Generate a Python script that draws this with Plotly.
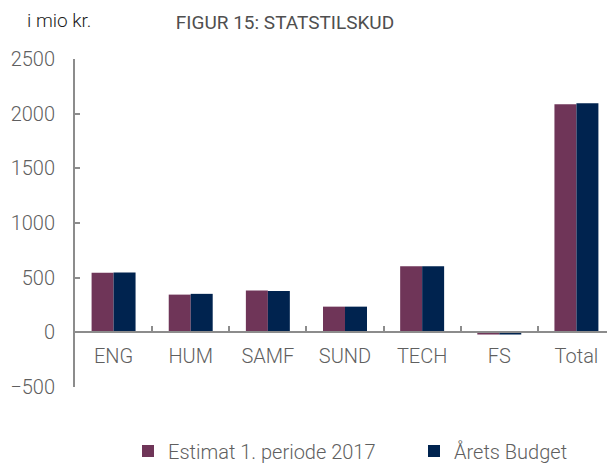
import plotly.graph_objects as go

categories = ["ENG", "HUM", "SAMF", "SUND", "TECH", "FS", "Total"]
estimat = [545, 345, 383, 235, 605, -20, 2085]
budget = [548, 352, 378, 235, 605, -20, 2095]
series_names = ["Estimat 1. periode 2017", "Årets Budget"]
ytick_vals = [-500, 0, 500, 1000, 1500, 2000, 2500]

FONT = "Roboto"
GRAY = "#5f5f5f"
OFF = 8  # default page body margin
W, H = 615 - OFF, 464 - OFF
ML, MR, MT, MB = 75 - OFF, 0, 59 - OFF, 77
PW, PH = W - ML - MR, H - MT - MB

fig = go.Figure()
fig.add_trace(go.Bar(x=categories, y=estimat, name=series_names[0], legend="legend",
                     marker=dict(color="#6F3558", line=dict(width=0))))
fig.add_trace(go.Bar(x=categories, y=budget, name=series_names[1], legend="legend2",
                     marker=dict(color="#00234F", line=dict(width=0))))

leg_font = dict(family=FONT, size=20, color=GRAY, weight=300)
leg_y = 1 - (451 - OFF) / H

fig.update_layout(
    width=W, height=H,
    margin=dict(l=ML, r=MR, t=MT, b=MB, autoexpand=False),
    paper_bgcolor="white", plot_bgcolor="white",
    barmode="group", bargap=0.43, bargroupgap=0,
    font=dict(family=FONT, size=20, color=GRAY, weight=300),
    title=dict(text="FIGUR 15: STATSTILSKUD", x=(285 - OFF)/W, xref="container", xanchor="center",
               y=1 - (22 - OFF)/H, yref="container", yanchor="middle",
               font=dict(family=FONT, size=19, color="#4f4f4f", weight=400)),
    showlegend=True,
    legend=dict(orientation="h", xref="container", yref="container",
                x=120/W, xanchor="left", y=leg_y, yanchor="middle",
                font=leg_font, itemclick=False),
    legend2=dict(orientation="h", xref="container", yref="container",
                 x=406/W, xanchor="left", y=leg_y, yanchor="middle",
                 font=leg_font, itemclick=False),
    xaxis=dict(type="category", range=[-0.5, 6.5], anchor="free", position=1/6,
               showline=True, linecolor="#8c8c8c", linewidth=2,
               ticks="inside", tickson="boundaries", ticklen=5, tickcolor="#8c8c8c", tickwidth=2,
               showgrid=False, zeroline=False, ticklabelstandoff=6,
               tickfont=dict(family=FONT, size=20, color=GRAY, weight=300)),
    yaxis=dict(range=[-500, 2500], tickvals=ytick_vals, domain=[0, 1],
               showline=True, linecolor="#8c8c8c", linewidth=2,
               ticks="inside", ticklen=5, tickcolor="#8c8c8c", tickwidth=2,
               showgrid=False, zeroline=False, ticklabelstandoff=14,
               tickfont=dict(family=FONT, size=20, color=GRAY, weight=300)),
    annotations=[dict(text="i mio kr.", xref="paper", yref="paper",
                      x=(58.5 - OFF - ML)/PW, y=(H - (21 - OFF) - MB)/PH,
                      xanchor="center", yanchor="middle",
                      showarrow=False, font=dict(family=FONT, size=19, color="#1a1a1a", weight=300))],
)

fig.write_html("out.html")
